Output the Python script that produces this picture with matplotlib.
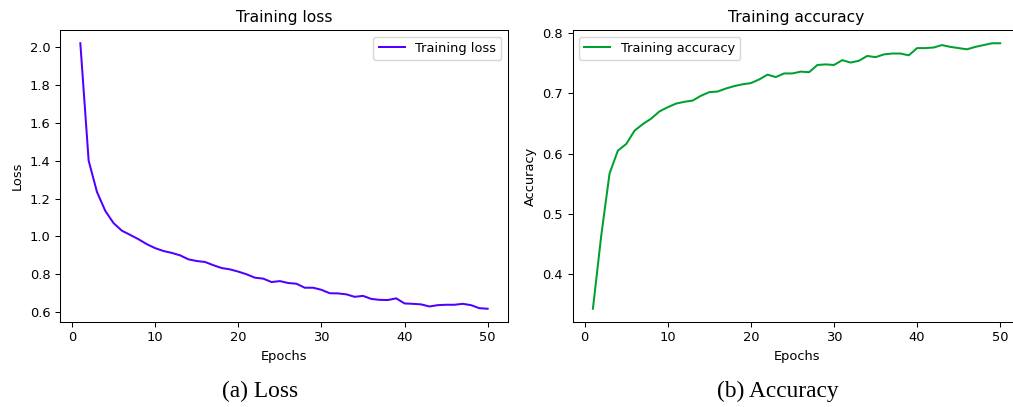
import matplotlib
matplotlib.use("Agg")
import matplotlib.pyplot as plt

# values
epochs = list(range(1, 51))
loss = [2.02, 1.40, 1.235, 1.135, 1.07, 1.03, 1.008, 0.985, 0.959, 0.938,
        0.923, 0.913, 0.900, 0.879, 0.870, 0.865, 0.848, 0.833, 0.826, 0.814,
        0.800, 0.782, 0.777, 0.759, 0.764, 0.754, 0.750, 0.729, 0.729, 0.718,
        0.700, 0.699, 0.694, 0.681, 0.686, 0.670, 0.665, 0.664, 0.673, 0.646,
        0.644, 0.641, 0.630, 0.637, 0.639, 0.639, 0.644, 0.637, 0.621, 0.618]
accuracy = [0.343, 0.464, 0.567, 0.605, 0.616, 0.638, 0.649, 0.658, 0.670, 0.677,
            0.683, 0.686, 0.688, 0.696, 0.702, 0.703, 0.708, 0.712, 0.715, 0.717,
            0.723, 0.731, 0.727, 0.733, 0.733, 0.736, 0.735, 0.747, 0.748, 0.747,
            0.755, 0.751, 0.754, 0.762, 0.760, 0.7645, 0.766, 0.766, 0.763, 0.775,
            0.775, 0.776, 0.780, 0.777, 0.775, 0.773, 0.777, 0.780, 0.783, 0.783]

fs = 9.4
plt.rcParams.update({
    "font.size": fs,
    "axes.linewidth": 0.75,
    "xtick.major.width": 0.75,
    "ytick.major.width": 0.75,
    "xtick.major.size": 3.3,
    "ytick.major.size": 3.3,
    "legend.fontsize": fs,
})

fig = plt.figure(figsize=(10.13, 4.07), dpi=100)

ax1 = fig.add_axes([0.0592, 0.2088, 0.4423, 0.7175])
ax1.plot(epochs, loss, color="#5000ff", lw=1.45, label="Training loss")
ax1.set_title("Training loss", fontsize=11.2)
ax1.set_xlabel("Epochs")
ax1.set_ylabel("Loss")
ax1.legend(loc="upper right")

ax2 = fig.add_axes([0.5652, 0.2088, 0.4423, 0.7175])
ax2.plot(epochs, accuracy, color="#00a030", lw=1.45, label="Training accuracy")
ax2.set_title("Training accuracy", fontsize=11.2)
ax2.set_xlabel("Epochs")
ax2.set_ylabel("Accuracy")
ax2.legend(loc="upper left")

fig.text(0.257, 0.039, "(a) Loss", ha="center", va="center",
         family="Liberation Serif", fontsize=16.8)
fig.text(0.768, 0.039, "(b) Accuracy", ha="center", va="center",
         family="Liberation Serif", fontsize=16.8)

fig.savefig("out.png", dpi=100)
